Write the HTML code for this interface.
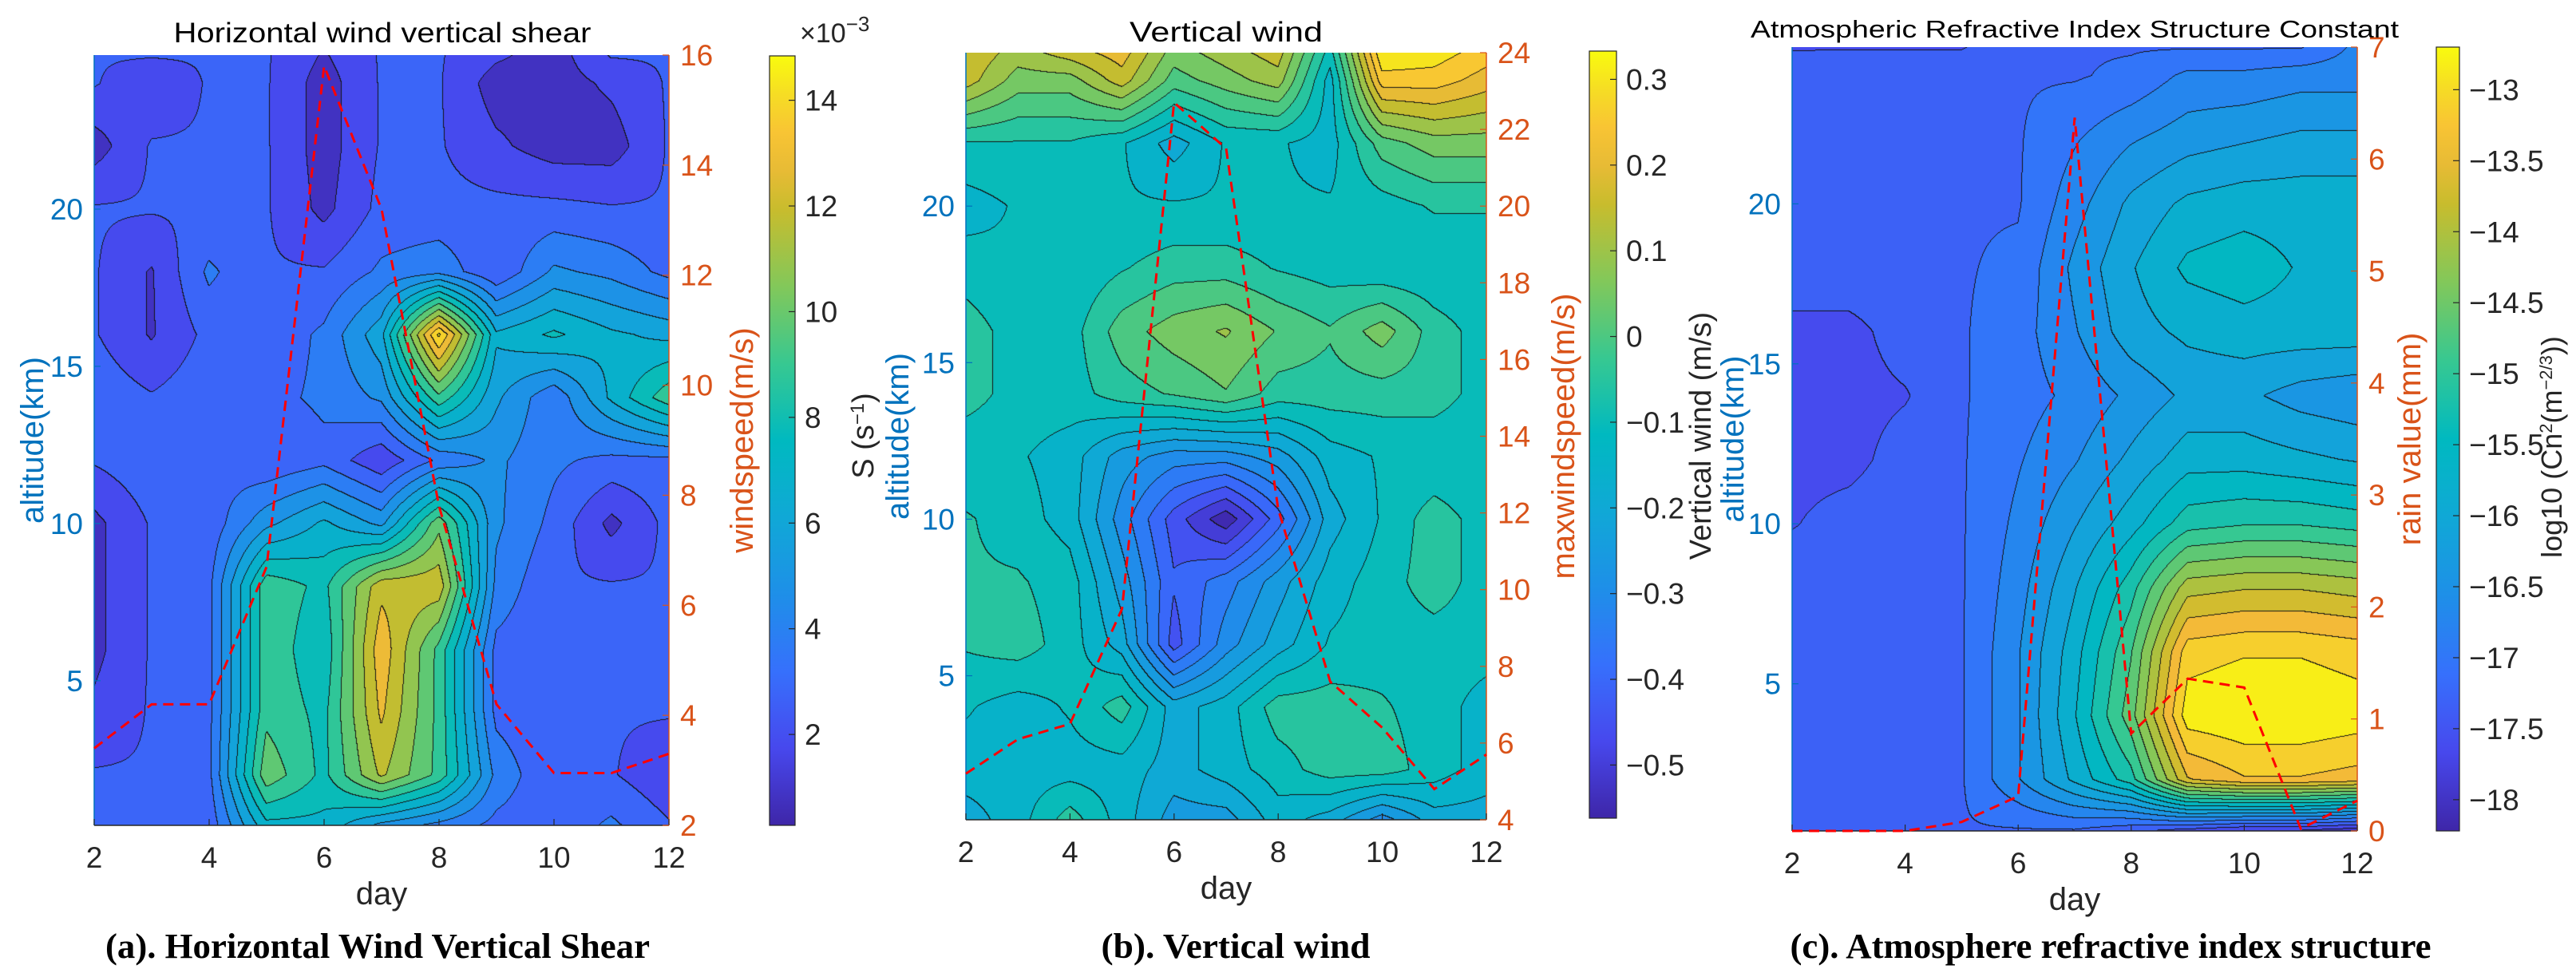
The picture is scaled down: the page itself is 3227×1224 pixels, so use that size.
<!DOCTYPE html>
<html><head><meta charset="utf-8">
<style>
html,body{margin:0;padding:0;background:#fff;}
#root{position:relative;width:3227px;height:1224px;overflow:hidden;background:#fff;}
canvas{position:absolute;}
svg{position:absolute;left:0;top:0;}
</style></head>
<body>
<div id="root">
<canvas id="cvA"></canvas>
<canvas id="cvB"></canvas>
<canvas id="cvC"></canvas>
<svg id="sv" width="3227" height="1224" font-family="Liberation Sans, Arial, sans-serif"></svg>
</div>
<script>
// ---------- data ----------
const days = [2,3,4,5,6,7,8,9,10,11,12];
const alts = [0.4,2,4,6,8,10,12,14,16,18,20,22,24,24.9];
// Panel (a): horizontal wind vertical shear (x1e-3 s^-1), rows bottom->top
const shearGrid = [
 [2.4,2.4,2.6,7,7,5,4,3,2.6,3.5,2.4],
 [2.4,2.4,3,10,8,11.5,9,4,2.4,2.4,1.5],
 [1.5,2.4,3,9,8,12.5,9,3,2.4,2.4,2.4],
 [1,2.4,3,9,7.5,13,9,3,2.4,2.4,2.4],
 [1,2.4,3,9,8,12,12,4,2.4,2.4,2.4],
 [1,2.4,2.6,5,6.5,5,10,4.5,3,1,2.6],
 [2.4,3,3,2.4,3,1.5,3.5,4.5,3.5,3,3],
 [3,2.4,3,3,3.5,4.5,9,5.5,3.5,6.5,9],
 [2.4,1.2,2.6,2.6,3.5,6,14.5,6.5,7.5,6.5,6],
 [2.4,1.2,3.5,2.4,2.4,3.5,4,2.4,4.5,4,3],
 [2.4,2.4,2.4,2.4,1,2.6,2.6,2.6,2.6,2.4,2.4],
 [0.8,2.4,2.4,2.4,0.8,2.4,2.4,1.5,0.8,0.8,2.4],
 [2.4,1.5,2.4,2.4,0.8,2.4,2.4,0.8,0.8,1.5,2.4],
 [2.4,2.4,2.4,2.4,1.2,2.4,2.4,1.5,0.8,2.4,2.4]
];
const windspeed = [3.4,4.2,4.2,6.7,15.8,13.2,7.8,4.2,2.95,2.95,3.3];
const shearTicks = [2,4,6,8,10,12,14];
const windTicks = [2,4,6,8,10,12,14,16];

// Panel (b): vertical wind (m/s)
const vwGrid = [
 [-0.2,-0.15,-0.05,-0.15,-0.25,-0.25,-0.15,-0.2,-0.3,-0.2,-0.2],
 [-0.15,-0.15,-0.15,-0.15,-0.2,-0.15,-0.1,-0.05,-0.05,-0.1,-0.15],
 [-0.12,-0.15,-0.12,-0.05,-0.2,-0.15,-0.05,-0.05,-0.07,-0.1,-0.15],
 [-0.07,-0.05,-0.1,-0.2,-0.45,-0.3,-0.2,-0.12,-0.1,-0.1,-0.1],
 [-0.07,-0.07,-0.1,-0.25,-0.42,-0.35,-0.25,-0.15,-0.1,-0.05,-0.1],
 [-0.07,-0.1,-0.15,-0.3,-0.45,-0.56,-0.4,-0.2,-0.12,-0.05,-0.1],
 [-0.12,-0.12,-0.15,-0.25,-0.3,-0.3,-0.25,-0.15,-0.12,-0.12,-0.12],
 [-0.05,-0.1,-0.1,-0.05,-0.02,0.02,-0.05,-0.05,-0.05,-0.05,-0.1],
 [-0.05,-0.1,-0.1,0.0,0.05,0.08,0.02,-0.02,0.05,-0.05,-0.1],
 [-0.1,-0.12,-0.12,-0.08,-0.05,-0.05,-0.08,-0.1,-0.12,-0.12,-0.12],
 [-0.15,-0.12,-0.12,-0.12,-0.12,-0.12,-0.12,-0.12,-0.1,-0.07,-0.07],
 [-0.08,-0.08,-0.08,-0.12,-0.2,-0.12,-0.12,-0.15,0.0,0.05,0.05],
 [0.15,0.05,0.05,0.15,0.0,0.05,0.1,-0.15,0.25,0.25,0.2],
 [0.17,0.1,0.15,0.2,0.05,0.1,0.15,-0.1,0.32,0.3,0.25]
];
const maxwind = [5.2,6.1,6.5,9.5,22.7,21.5,12.1,7.6,6.4,4.8,5.7];
const vwTicks = [-0.5,-0.4,-0.3,-0.2,-0.1,0,0.1,0.2,0.3];
const maxwindTicks = [4,6,8,10,12,14,16,18,20,22,24];

// Panel (c): log10 Cn2
const cnGrid = [
 [-17.2,-17.2,-17.2,-17.2,-17.2,-17.2,-17.4,-17.6,-17.8,-17.8,-18.0],
 [-17.2,-17.2,-17.2,-17.2,-16.6,-15.9,-15.2,-13.6,-13.3,-13.3,-13.4],
 [-17.2,-17.2,-17.2,-17.2,-16.6,-15.7,-14.6,-12.8,-12.7,-12.7,-12.8],
 [-17.2,-17.2,-17.2,-17.2,-16.6,-15.8,-14.8,-13.1,-13.0,-13.0,-13.1],
 [-17.2,-17.2,-17.2,-17.2,-16.7,-16.0,-15.2,-14.0,-13.9,-13.9,-14.0],
 [-17.5,-17.3,-17.2,-17.2,-16.8,-16.3,-15.8,-15.2,-15.1,-15.1,-15.2],
 [-17.6,-17.6,-17.3,-17.2,-16.9,-16.6,-16.2,-15.8,-15.8,-15.9,-16.0],
 [-17.6,-17.6,-17.5,-17.2,-17.0,-16.8,-16.5,-16.2,-16.2,-16.4,-16.5],
 [-17.6,-17.6,-17.3,-17.2,-17.0,-16.6,-16.1,-15.9,-15.8,-15.8,-15.8],
 [-17.2,-17.2,-17.2,-17.2,-17.1,-16.5,-16.0,-15.6,-15.5,-15.7,-15.8],
 [-17.2,-17.2,-17.2,-17.2,-17.2,-16.7,-16.2,-15.9,-15.8,-15.8,-15.8],
 [-17.2,-17.2,-17.2,-17.2,-17.2,-16.9,-16.6,-16.4,-16.3,-16.2,-16.2],
 [-17.3,-17.2,-17.2,-17.2,-17.2,-17.2,-17.1,-16.8,-16.8,-16.7,-16.7],
 [-17.5,-17.5,-17.5,-17.5,-17.2,-17.2,-17.2,-17.2,-17.2,-17.2,-16.8]
];
const rain = [0,0,0,0.08,0.31,6.37,0.87,1.36,1.28,0.02,0.27];
const cnTicks = [-18,-17.5,-17,-16.5,-16,-15.5,-15,-14.5,-14,-13.5,-13];
const rainTicks = [0,1,2,3,4,5,6,7];

const dayTicks = [2,4,6,8,10,12];
const altTicks = [5,10,15,20];

// ---------- helpers ----------
const parula = [[0,62,38,168],[0.1,71,72,237],[0.2,54,112,252],[0.3,30,143,232],[0.4,16,168,214],[0.5,0,185,192],[0.6,55,200,145],[0.7,130,200,90],[0.8,200,188,45],[0.88,250,186,58],[0.94,245,215,40],[1,249,251,14]];
function cmap(t){t=Math.max(0,Math.min(1,t));for(let i=1;i<parula.length;i++){if(t<=parula[i][0]){const a=parula[i-1],b=parula[i],f=(t-a[0])/(b[0]-a[0]);return [a[1]+f*(b[1]-a[1]),a[2]+f*(b[2]-a[2]),a[3]+f*(b[3]-a[3])];}}return [249,251,14];}
function sample(g,d,a){
  let i=Math.floor(d-2); if(i<0)i=0; if(i>9)i=9; const fx=(d-2)-i;
  let j=0; while(j<alts.length-2 && a>alts[j+1]) j++;
  const fy=Math.max(0,Math.min(1,(a-alts[j])/(alts[j+1]-alts[j])));
  const v00=g[j][i],v01=g[j][i+1],v10=g[j+1][i],v11=g[j+1][i+1];
  return (v00*(1-fx)+v01*fx)*(1-fy)+(v10*(1-fx)+v11*fx)*fy;
}
const NS='http://www.w3.org/2000/svg';
const sv=document.getElementById('sv');
function el(tag,attrs,parent){const e=document.createElementNS(NS,tag);for(const k in attrs)e.setAttribute(k,attrs[k]);(parent||sv).appendChild(e);return e;}
function txt(s,attrs,parent){const e=el('text',attrs,parent);e.textContent=s;return e;}

const panels = [
 {id:'a',cv:'cvA',L:118,R:838,T:69,B:1034,grid:shearGrid,lv0:0.3,step:1,cmin:0.28,cmax:14.84,
  cbL:964,cbR:996,cbT:70,cbB:1034,cbTicks:shearTicks,
  line:windspeed,rmin:2,rmax:16,rTicks:windTicks,rLabel:'windspeed(m/s)',rLabelX:929,
  title:'Horizontal wind vertical shear',titleW:523,titleX:479,titleY:53,
  caption:'(a). Horizontal Wind Vertical Shear',capX:473,capW:682,
  ylabX:40,cbLabX:1082},
 {id:'b',cv:'cvB',L:1210,R:1862,T:66,B:1027,grid:vwGrid,lv0:-0.626,step:0.05,cmin:-0.562,cmax:0.333,
  cbL:1991,cbR:2025,cbT:64,cbB:1025,cbTicks:vwTicks,
  line:maxwind,rmin:4,rmax:24,rTicks:maxwindTicks,rLabel:'maxwindspeed(m/s)',rLabelX:1958,
  title:'Vertical wind',titleW:242,titleX:1536,titleY:52,
  caption:'(b). Vertical wind',capX:1548,capW:337,
  ylabX:1124,cbLabX:2130},
 {id:'c',cv:'cvC',L:2245,R:2953,T:59,B:1041,grid:cnGrid,lv0:-18.37,step:0.3,cmin:-18.22,cmax:-12.70,
  cbL:3052,cbR:3081,cbT:59,cbB:1041,cbTicks:cnTicks,
  line:rain,rmin:0,rmax:7,rTicks:rainTicks,rLabel:'rain value(mm)',rLabelX:3018,
  title:'Atmospheric Refractive Index Structure Constant',titleW:812,titleX:2599,titleY:47,
  caption:'(c). Atmosphere refractive index structure',capX:2644,capW:803,
  ylabX:2170,cbLabX:3197}
];
const altMin=0.4, altMax=24.9;

panels.forEach(p=>{
  const W=p.R-p.L, H=p.B-p.T;
  const xS=d=>p.L+(d-2)/10*W;
  const yS=a=>p.B-(a-altMin)/(altMax-altMin)*H;
  const rS=v=>p.B-(v-p.rmin)/(p.rmax-p.rmin)*H;
  const cS=v=>p.cbB-(v-p.cmin)/(p.cmax-p.cmin)*(p.cbB-p.cbT);
  const cv=document.getElementById(p.cv);
  cv.width=W; cv.height=H; cv.style.left=p.L+'px'; cv.style.top=p.T+'px';
  const ctx=cv.getContext('2d'); const img=ctx.createImageData(W,H);
  const lev=new Int16Array(W*H);
  for(let y=0;y<H;y++){const a=altMax-(altMax-altMin)*(y+0.5)/H;
    for(let x=0;x<W;x++){const d=2+10*(x+0.5)/W;
      lev[y*W+x]=Math.floor((sample(p.grid,d,a)-p.lv0)/p.step);}}
  for(let y=0;y<H;y++)for(let x=0;x<W;x++){
    const k=y*W+x,l=lev[k];
    let edge=(x<W-1&&lev[k+1]!==l)||(y<H-1&&lev[k+W]!==l);
    let c;
    if(edge) c=[20,20,20];
    else{const v=p.lv0+(l+0.5)*p.step;c=cmap((v-p.cmin)/(p.cmax-p.cmin));}
    img.data[k*4]=c[0];img.data[k*4+1]=c[1];img.data[k*4+2]=c[2];img.data[k*4+3]=255;
  }
  ctx.putImageData(img,0,0);

  const g=el('g',{});  
  const ax=el('line',{x1:p.L,y1:p.B,x2:p.R,y2:p.B,stroke:'#262626','stroke-width':1.5},g);
   
  const ly=el('line',{x1:p.L,y1:p.T,x2:p.L,y2:p.B,stroke:'#0072BD','stroke-width':1.5},g);
   
  const ry=el('line',{x1:p.R,y1:p.T,x2:p.R,y2:p.B,stroke:'#D95319','stroke-width':1.5},g);
   
  dayTicks.forEach(d=>{
    el('line',{x1:xS(d),y1:p.B,x2:xS(d),y2:p.B-8,stroke:'#262626','stroke-width':1.2},g);
    const t=txt(String(d),{x:xS(d),y:p.B+53,'font-size':37,fill:'#262626','text-anchor':'middle'},g);
     
  });
  const xl=txt('day',{x:(p.L+p.R)/2,y:p.B+99,'font-size':40,fill:'#262626','text-anchor':'middle'},g);
   
  altTicks.forEach(a=>{
    el('line',{x1:p.L,y1:yS(a),x2:p.L+8,y2:yS(a),stroke:'#0072BD','stroke-width':1.2},g);
    const t=txt(String(a),{x:p.L-14,y:yS(a)+13,'font-size':37,fill:'#0072BD','text-anchor':'end'},g);
     
  });
  const yl=txt('altitude(km)',{x:0,y:0,'font-size':40,fill:'#0072BD','text-anchor':'middle',transform:`translate(${p.ylabX+14},${(p.T+p.B)/2}) rotate(-90)`},g);
   
  p.rTicks.forEach(v=>{
    el('line',{x1:p.R,y1:rS(v),x2:p.R-8,y2:rS(v),stroke:'#D95319','stroke-width':1.2},g);
    const t=txt(String(v),{x:p.R+14,y:rS(v)+13,'font-size':37,fill:'#D95319'},g);
     
  });
  const rl=txt(p.rLabel,{x:0,y:0,'font-size':40,fill:'#D95319','text-anchor':'middle',transform:`translate(${p.rLabelX+14},${(p.T+p.B)/2}) rotate(-90)`},g);
   
  const pts=p.line.map((v,i)=>xS(days[i]).toFixed(1)+','+rS(v).toFixed(1)).join(' ');
  const pl=el('polyline',{points:pts,fill:'none',stroke:'#ff0000','stroke-width':3,'stroke-dasharray':'13,8'},g);
   
  const ti=txt(p.title,{x:p.titleX,y:p.titleY,'font-size':p.id==='c'?31:35,fill:'#000','text-anchor':'middle',textLength:p.titleW,lengthAdjust:'spacingAndGlyphs'},g);
   
  const ca=txt(p.caption,{x:p.capX,y:1200,'font-size':44,'font-weight':'bold',style:'font-family:"Liberation Serif","Times New Roman",serif',fill:'#000','text-anchor':'middle',textLength:p.capW,lengthAdjust:'spacingAndGlyphs'},g);
   
  const defs=el('defs',{},g);
  const gr=el('linearGradient',{id:'grad'+p.id,x1:0,y1:1,x2:0,y2:0},defs);
  for(let i=0;i<=20;i++){const c=cmap(i/20);el('stop',{offset:(i/20),'stop-color':`rgb(${c.map(Math.round).join(',')})`},gr);}
  const cb=el('rect',{x:p.cbL,y:p.cbT,width:p.cbR-p.cbL,height:p.cbB-p.cbT,fill:`url(#grad${p.id})`,stroke:'#262626','stroke-width':1.2},g);
   
  p.cbTicks.forEach(v=>{
    el('line',{x1:p.cbR-8,y1:cS(v),x2:p.cbR,y2:cS(v),stroke:'#262626','stroke-width':1.2},g);
    const s=(v<0?'\u2212':'')+String(Math.abs(v));
    const t=txt(s,{x:p.cbR+12,y:cS(v)+13,'font-size':37,fill:'#262626'},g);
     
  });
});

function vlabel(s,x,y,name,fs){const t=el('text',{x:0,y:0,'font-size':fs,fill:'#262626','text-anchor':'middle',transform:`translate(${x},${y}) rotate(-90)`});t.innerHTML=s;return t;}
vlabel('S (s<tspan dy="-12" font-size="24">\u22121</tspan><tspan dy="12">)</tspan>',1094,546,'colorbar-a-title',38);
vlabel('Vertical wind (m/s)',2143,546,'colorbar-b-title',38);
vlabel('log10 (Cn<tspan dy="-12" font-size="22">2</tspan><tspan dy="12">(m</tspan><tspan dy="-12" font-size="22">\u22122/3</tspan><tspan dy="12">))</tspan>',3209,560,'colorbar-c-title',36);
const ex=el('text',{x:1002,y:53,'font-size':34,fill:'#262626'});
ex.innerHTML='\u00d710<tspan dy="-14" font-size="26">\u22123</tspan>';
 
</script>
</body></html>
